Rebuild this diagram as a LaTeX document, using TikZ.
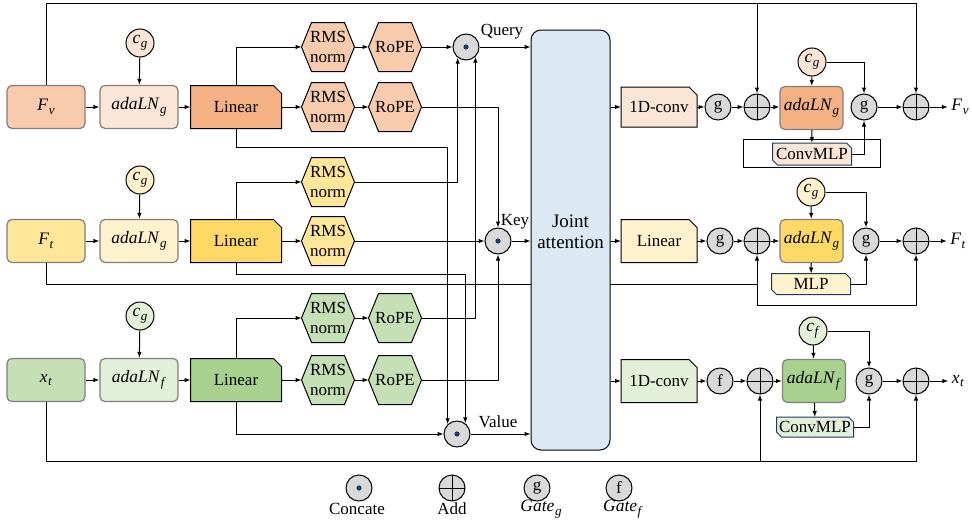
\documentclass[tikz,border=0pt]{standalone}
\usepackage{fontspec}
\setmainfont{Liberation Serif}
\usetikzlibrary{arrows.meta,backgrounds,calc}
\definecolor{orA}{HTML}{F8CBAD}
\definecolor{orB}{HTML}{FBE5D6}
\definecolor{orC}{HTML}{F4B183}
\definecolor{yeA}{HTML}{FFE699}
\definecolor{yeB}{HTML}{FFF2CC}
\definecolor{yeC}{HTML}{FFD966}
\definecolor{grA}{HTML}{C5E0B4}
\definecolor{grB}{HTML}{E2F0D9}
\definecolor{grC}{HTML}{A9D18E}
\definecolor{jab}{HTML}{DDE8F5}
\definecolor{gcirc}{HTML}{D9D9D9}
\definecolor{navy}{HTML}{1F3864}
\definecolor{bgray}{HTML}{7F7F7F}
\newcommand{\mi}[2]{{\fontsize{17.5}{19}\selectfont\textit{#1}\kern0.5pt\raisebox{-0.45ex}{\fontsize{13}{13}\selectfont\textit{#2}}}}
\newcommand{\snipbox}[8]{%
  \draw[line width=1pt, draw=#8, fill=#6, shift={(#2,#3)}] ({-#4/2},{#5/2}) -- ({-#4/2},{-#5/2}) -- ({#4/2-8},{-#5/2}) -- ({#4/2},{-#5/2+8}) -- ({#4/2},{#5/2}) -- cycle;
  \node[minimum width=#4, minimum height=#5, inner sep=0, outer sep=0] (#1) at (#2,#3) {#7};
}
\newcommand{\mlpbox}[7]{%
  \draw[line width=1pt, draw=navy, fill=#6, shift={(#2,#3)}] ({-#4/2},{-#5/2}) -- ({#4/2-5},{-#5/2}) -- ({#4/2},{-#5/2+5}) -- ({#4/2},{#5/2}) -- ({-#4/2+5},{#5/2}) -- ({-#4/2},{#5/2-5}) -- cycle;
  \node[minimum width=#4, minimum height=#5, inner sep=0, outer sep=0] (#1) at (#2,#3) {#7};
}
\newcommand{\hexa}[5]{%
  \draw[line width=1pt, fill=#4, shift={(#2,#3)}] (-26.5,0) -- (-16.5,-24.5) -- (16.5,-24.5) -- (26.5,0) -- (16.5,24.5) -- (-16.5,24.5) -- cycle;
  \node[minimum width=53, minimum height=49, inner sep=0, outer sep=0, align=center] (#1) at (#2,#3) {#5};
}
\begin{document}
\begin{tikzpicture}[x=1pt,y=-1pt, font=\fontsize{17}{19.5}\selectfont,
  rbox/.style={draw=bgray, line width=1.2pt, rounded corners=5pt, minimum width=78, minimum height=43, inner sep=0},
  cnode/.style={circle, draw, line width=1pt, minimum size=28, inner sep=0},
  cat/.style={circle, draw, line width=1pt, fill=gcirc, minimum size=26, inner sep=0,
    path picture={\fill[navy] (path picture bounding box.center) circle (2.6pt);}},
  addc/.style={circle, draw, line width=1pt, fill=gcirc, minimum size=26, inner sep=0,
    path picture={\draw[line width=1pt] (path picture bounding box.north) -- (path picture bounding box.south) (path picture bounding box.west) -- (path picture bounding box.east);}},
  gate/.style={circle, draw, line width=1pt, fill=gcirc, minimum size=26, inner sep=0},
  arr/.style={-{Latex[length=6pt,width=4.5pt]}, line width=1pt},
  ln/.style={line width=1pt}]
\useasboundingbox (0,0) rectangle (972,522);
\coordinate (top) at (0,3);
\coordinate (r2a) at (0,284);
\coordinate (r2b) at (0,305);
\coordinate (r3) at (0,461);

% ---------- left: Fv row ----------
\node[rbox, fill=orA] (Fv) at (46,107) {\mi{F}{v}};
\node[rbox, fill=orB] (ad1) at (139,107) {\mi{adaLN}{g}};
\snipbox{L1}{236}{107}{91}{43}{orC}{Linear}{black}
\node[cnode, fill=orB] (cg1) at (140,43) {\mi{c}{g}};
\hexa{R1}{328}{47}{orA}{RMS\\norm}
\hexa{P1}{395}{47}{orA}{RoPE}
\hexa{R2}{328}{107}{orA}{RMS\\norm}
\hexa{P2}{395}{107}{orA}{RoPE}

% ---------- left: Ft row ----------
\node[rbox, fill=yeA] (Ft) at (46,241) {\mi{F}{t}};
\node[rbox, fill=yeB] (ad2) at (139,241) {\mi{adaLN}{g}};
\snipbox{L2}{236}{241}{91}{43}{yeC}{Linear}{black}
\node[cnode, fill=yeB] (cg2) at (140,180) {\mi{c}{g}};
\hexa{R3}{328}{182}{yeA}{RMS\\norm}
\hexa{R4}{328}{241}{yeA}{RMS\\norm}

% ---------- left: xt row ----------
\node[rbox, fill=grA] (xt) at (46,380) {\mi{x}{t}};
\node[rbox, fill=grB] (ad3) at (139,380) {\mi{adaLN}{f}};
\snipbox{L3}{236}{380}{91}{43}{grC}{Linear}{black}
\node[cnode, fill=grB] (cg3) at (140,316) {\mi{c}{g}};
\hexa{R5}{328}{318}{grA}{RMS\\norm}
\hexa{P5}{395}{318}{grA}{RoPE}
\hexa{R6}{328}{380}{grA}{RMS\\norm}
\hexa{P6}{395}{380}{grA}{RoPE}

% ---------- concatenations ----------
\node[cat] (Q) at (466,47) {};
\node[cat] (K) at (498,241) {};
\node[cat] (V) at (457,434) {};
\node (qlab) at (502,32) {Query};
\node (klab) at (515,222) {Key};
\node (vlab) at (498,422) {Value};

% ---------- right: Fv row ----------
\snipbox{C1}{659}{107}{76}{40}{orB}{1D-conv}{black}
\node[gate] (g1) at (718,107) {g};
\node[addc] (A1) at (757,107) {};
\node[rbox, fill=orC, minimum width=63] (N1) at (811.5,108) {\mi{adaLN}{g}};
\node[cnode, fill=orB] (cg4) at (812,62) {\mi{c}{g}};
\node[gate] (G1) at (864,107) {g};
\node[addc] (A2) at (916,107) {};
\node (oFv) at (960,107) {\mi{F}{v}};
\draw[ln] (743,139) rectangle (880,167);
\mlpbox{CM1}{812}{154}{79}{22}{orB}{ConvMLP}

% ---------- right: Ft row ----------
\snipbox{C2}{659}{241}{76}{43}{yeB}{Linear}{black}
\node[gate] (g2) at (720,241) {g};
\node[addc] (A3) at (757,241) {};
\node[rbox, fill=yeC, minimum width=63] (N2) at (811.5,241) {\mi{adaLN}{g}};
\node[cnode, fill=yeB] (cg5) at (811,192) {\mi{c}{g}};
\node[gate] (G2) at (866,241) {g};
\node[addc] (A4) at (916,241) {};
\node (oFt) at (958,241) {\mi{F}{t}};
\mlpbox{M2}{811}{284}{79}{21}{yeB}{MLP}

% ---------- right: xt row ----------
\snipbox{C3}{659}{381}{76}{43}{grB}{1D-conv}{black}
\node[gate] (f1) at (720,381) {f};
\node[addc] (A5) at (760,381) {};
\node[rbox, fill=grC, minimum width=63] (N3) at (814,381) {\mi{adaLN}{f}};
\node[cnode, fill=grB] (cf) at (813,331) {\mi{c}{f}};
\node[gate] (G3) at (869,381) {g};
\node[addc] (A6) at (916,381) {};
\node (oxt) at (958,381) {\mi{x}{t}};
\mlpbox{CM3}{815}{427}{77}{20}{grB}{ConvMLP}

% ---------- joint attention ----------
\node[draw, line width=1pt, fill=jab, rounded corners=10pt, minimum width=79, minimum height=420, inner sep=0] (JA) at (570.5,240) {};
\node[align=center, font=\fontsize{19}{21}\selectfont] (JAt) at (570.5,232) {Joint\\attention};

\begin{scope}[on background layer]
\draw[ln] (Ft.south) |- (A3 |- r2a);
\end{scope}

% ---------- left connectors ----------
\draw[arr] (Fv) -- (ad1);
\draw[arr] (ad1) -- (L1);
\draw[arr] (cg1) -- (ad1);
\draw[arr] (L1.north) |- (R1.west);
\draw[arr] (L1) -- (R2);
\draw[arr] (R1) -- (P1);
\draw[arr] (R2) -- (P2);
\draw[arr] (Ft) -- (ad2);
\draw[arr] (ad2) -- (L2);
\draw[arr] (cg2) -- (ad2);
\draw[arr] (L2.north) |- (R3.west);
\draw[arr] (L2) -- (R4);
\draw[arr] (xt) -- (ad3);
\draw[arr] (ad3) -- (L3);
\draw[arr] (cg3) -- (ad3);
\draw[arr] (L3.north) |- (R5.west);
\draw[arr] (L3) -- (R6);
\draw[arr] (R5) -- (P5);
\draw[arr] (R6) -- (P6);

% ---------- to concatenations ----------
\draw[arr] (P1) -- (Q);
\draw[arr] (R3.east) -| (Q.-128);
\draw[arr] (P5.east) -| (Q.-46);
\draw[arr] (P2.east) -| (K.north);
\draw[arr] (R4) -- (K);
\draw[arr] (P6.east) -| (K.south);
\draw[arr] (L1.south) -- ++(0,18.5) -| (V.134);
\draw[arr] (L2.south) -- ++(0,12) -| (V.52);
\draw[arr] (L3.south) |- (V.west);
\draw[arr] (Q.east) -- (Q.east -| JA.west);
\draw[arr] (K.east) -- (K.east -| JA.west);
\draw[arr] (V.east) -- (V.east -| JA.west);

% ---------- right connectors: Fv ----------
\draw[arr] (C1.west -| JA.east) -- (C1.west);
\draw[arr] (C1) -- (g1);
\draw[arr] (g1) -- (A1);
\draw[arr] (A1) -- (N1.west |- A1);
\draw[arr] (cg4) -- (N1);
\draw[arr] (N1) -- (CM1);
\draw[arr] (cg4.east) -| (G1.north);
\draw[arr] (CM1.east) -| (G1.south);
\draw[arr] (G1) -- (A2);
\draw[arr] (A2) -- (oFv);
\draw[arr] (Fv.north) |- (A1.north |- top) -- (A1.north);
\draw[arr] (A1.north |- top) -| (A2.north);

% ---------- right connectors: Ft ----------
\draw[arr] (C2.west -| JA.east) -- (C2.west);
\draw[arr] (C2) -- (g2);
\draw[arr] (g2) -- (A3);
\draw[arr] (A3) -- (N2);
\draw[arr] (cg5) -- (N2);
\draw[arr] (N2) -- (M2);
\draw[arr] (cg5.east) -| (G2.north);
\draw[arr] (M2.east) -| (G2.south);
\draw[arr] (G2) -- (A4);
\draw[arr] (A4) -- (oFt);
\draw[arr] (A3 |- r2b) -- (A3.south);
\draw[arr] (A3 |- r2b) -| (A4.south);

% ---------- right connectors: xt ----------
\draw[arr] (C3.west -| JA.east) -- (C3.west);
\draw[arr] (C3) -- (f1);
\draw[arr] (f1) -- (A5);
\draw[arr] (A5) -- (N3);
\draw[arr] (cf) -- (N3);
\draw[arr] (N3) -- (CM3);
\draw[arr] (cf.east) -| (G3.north);
\draw[arr] (CM3.east) -| (G3.south);
\draw[arr] (G3) -- (A6);
\draw[arr] (A6) -- (oxt);
\draw[arr] (xt.south) |- (A5 |- r3) -- (A5.south);
\draw[arr] (A5 |- r3) -| (A6.south);

% ---------- legend ----------
\node[cat] (lc) at (359,488) {};
\node[addc] (la) at (452,488) {};
\node[gate] (lg) at (537,488) {g};
\node[gate] (lf) at (619,488) {f};
\node (lct) at (357,509) {Concate};
\node (lat) at (452,509) {Add};
\node (lgt) at (541,509) {\mi{Gate}{g}};
\node (lft) at (623,509) {\mi{Gate}{f}};
\end{tikzpicture}
\end{document}
